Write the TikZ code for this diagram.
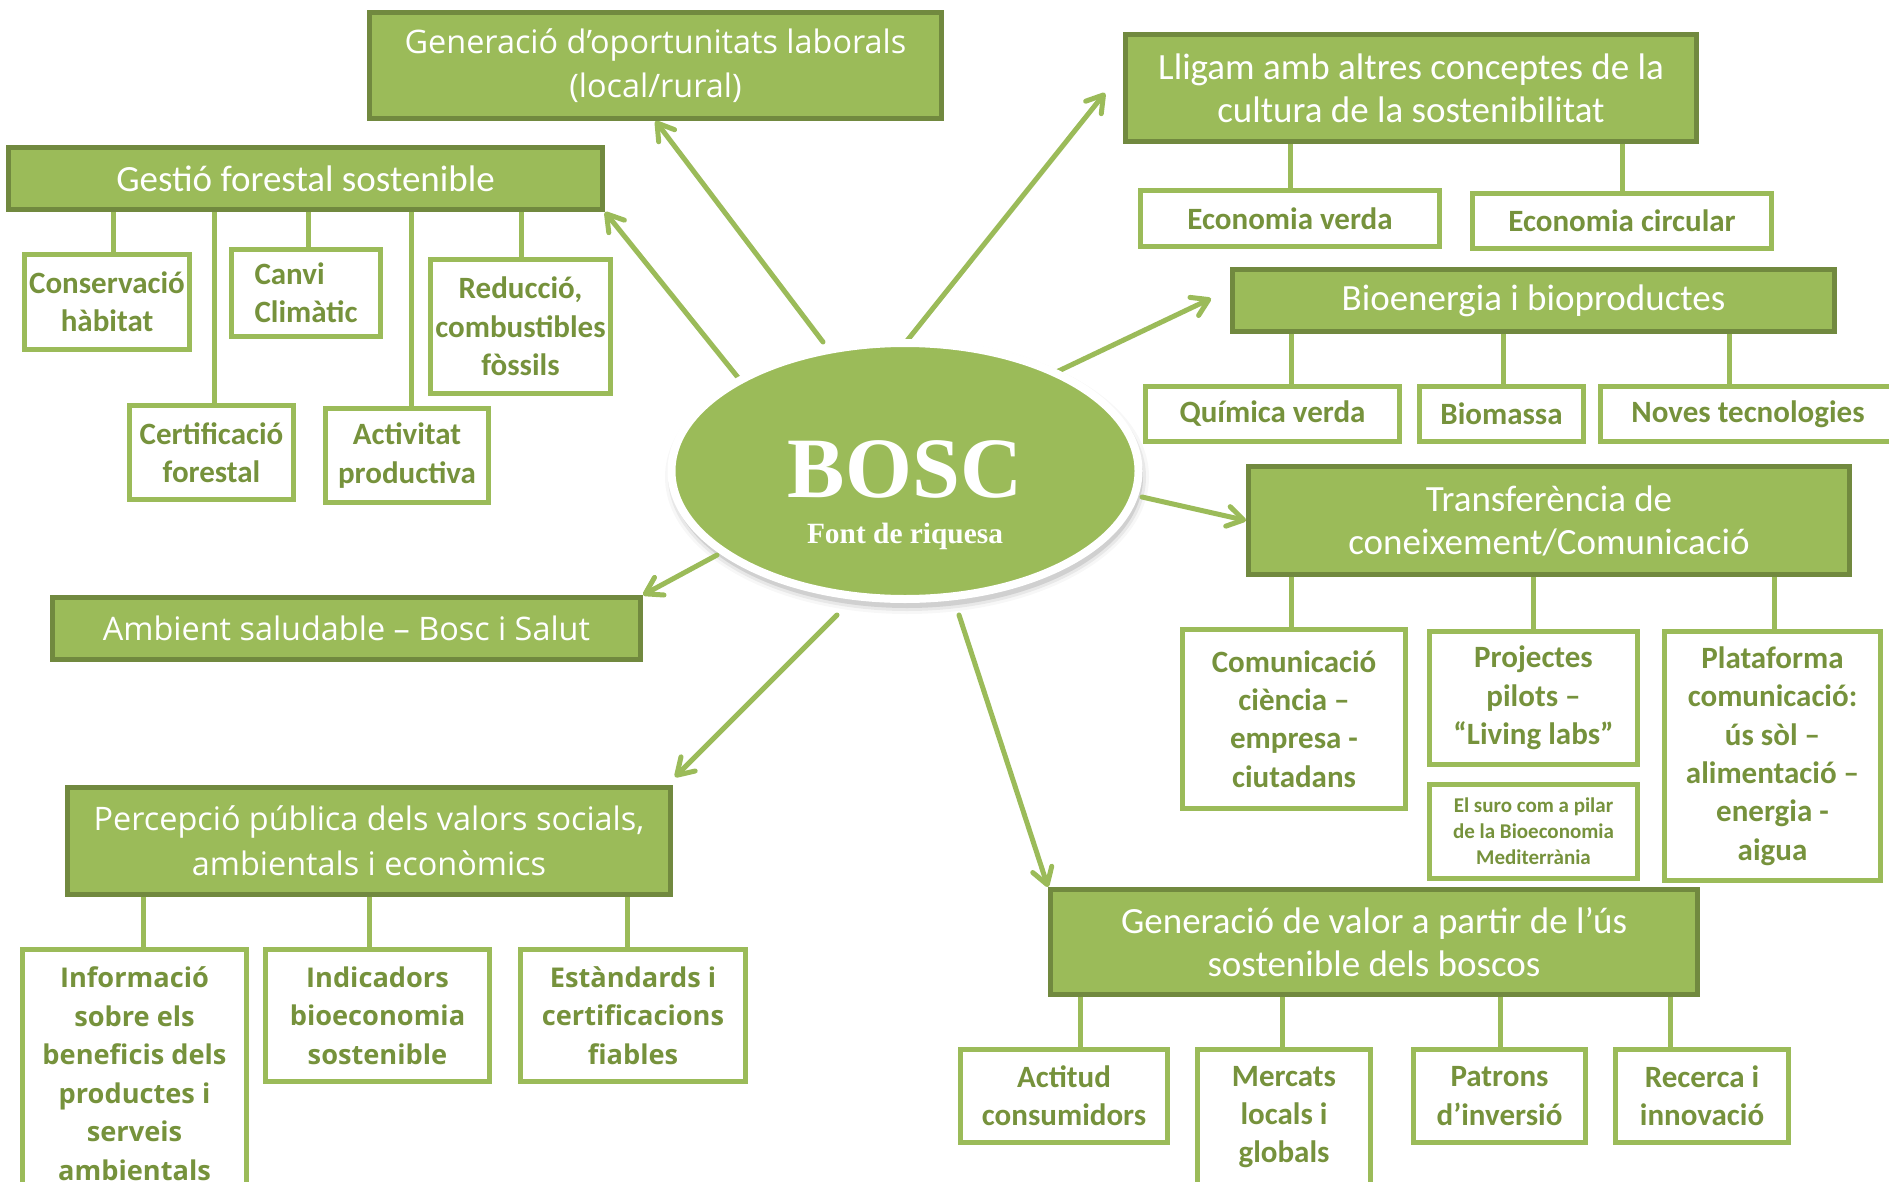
\documentclass[tikz,border=0pt]{standalone}
\usepackage{fontspec}
\setmainfont{Carlito}
\newfontfamily\osans{Open Sans}
\newfontfamily\tms{Liberation Serif}
\usetikzlibrary{shapes.geometric,arrows.meta,calc,backgrounds}
\definecolor{olv}{HTML}{9BBB59}
\definecolor{olvd}{HTML}{71893F}
\definecolor{olvt}{HTML}{76923C}
\pgfdeclarelayer{bg}
\pgfsetlayers{bg,background,main}
\newcommand\bx[7]{\node[#2, minimum width={0.5pt*(#5-#3-5)}, minimum height={0.5pt*(#6-#4-5)}] (#1) at ({(#3+#5)/2},{(#4+#6)/2}) {#7};}
\newcommand\cn[3]{\draw[conn] (#1.south -| #3,0) -- (#2.north -| #3,0);}
\tikzset{
  hdr/.style={draw=olvd, fill=olv, line width=2.5pt, inner sep=0pt, text=white, align=center, font=\fontsize{18.5}{21.5}\selectfont},
  hdro/.style={hdr, font=\osans\fontsize{16.2}{22.3}\selectfont},
  chd/.style={draw=olv, fill=white, line width=2.5pt, inner sep=0pt, text=olvt, align=center, font=\bfseries\fontsize{15.5}{19.2}\selectfont},
  chdo/.style={chd, font=\osans\bfseries\fontsize{13.6}{19.25}\selectfont},
  chds/.style={chd, font=\bfseries\fontsize{10.5}{13}\selectfont},
  conn/.style={draw=olv, line width=2.5pt},
  arr/.style={draw=olv, line width=2.5pt, line cap=round, -{Straight Barb[length=8pt,width=10pt,round]}},
}
\begin{document}
\begin{tikzpicture}[x=0.5pt,y=-0.5pt]
\path[use as bounding box] (0,0) rectangle (1889,1182);
\begin{pgfonlayer}{bg}\fill[white] (0,0) rectangle (1889,1182);\end{pgfonlayer}
\clip (0,0) rectangle (1889,1182);

% central ellipse
\node[ellipse, fill=olv, draw=white, line width=4pt, inner sep=0pt, minimum width=233.5pt, minimum height=128pt] (bosc) at (905,471) {};
\node[anchor=base, text=white, inner sep=0pt, font=\tms\bfseries\fontsize{43}{43}\selectfont] (bt) at (905,497) {BOSC};
\node[anchor=base, text=white, inner sep=0pt, font=\tms\bfseries\fontsize{14.7}{17}\selectfont] (ft) at (905,543) {Font de riquesa};

% headers
\bx{gen}{hdro}{367}{10}{944}{121}{Generació d’oportunitats laborals\\(local/rural)}
\bx{ges}{hdr}{6}{145}{605}{212}{Gestió forestal sostenible}
\bx{lli}{hdr}{1123}{32}{1699}{144}{Lligam amb altres conceptes de la\\cultura de la sostenibilitat}
\bx{bio}{hdr}{1230}{267}{1837}{334}{Bioenergia i bioproductes}
\bx{tra}{hdr}{1246}{464}{1852}{577}{Transferència de\\coneixement/Comunicació}
\bx{amb}{hdro}{50}{595}{643}{662}{Ambient saludable – Bosc i Salut}
\bx{per}{hdro}{65}{785}{673}{897}{Percepció pública dels valors socials,\\ambientals i econòmics}
\bx{val}{hdr}{1048}{887}{1700}{997}{Generació de valor a partir de l’ús\\sostenible dels boscos}

% Gestio children
\bx{con}{chd}{22}{252}{192}{352}{Conservació\\hàbitat}
\bx{cer}{chd}{127}{403}{296}{502}{Certificació\\forestal}
\bx{can}{chd,align=left}{229}{247}{383}{339}{Canvi\\Climàtic}
\bx{act}{chd}{323}{406}{491}{505}{Activitat\\productiva}
\bx{red}{chd}{428}{257}{613}{396}{Reducció,\\combustibles\\fòssils}
% Lligam children
\bx{ecv}{chd}{1138}{188}{1442}{249}{Economia verda}
\bx{ecc}{chd}{1470}{191}{1774}{251}{Economia circular}
% Bioenergia children
\bx{qui}{chd}{1143}{384}{1402}{444}{Química verda}
\bx{bms}{chd}{1417}{384}{1586}{444}{Biomassa}
\bx{nov}{chd}{1598}{384}{1898}{444}{Noves tecnologies}
% Transferencia children
\bx{com}{chd}{1180}{627}{1408}{811}{Comunicació\\ciència –\\empresa -\\ciutadans}
\bx{pro}{chd}{1427}{629}{1640}{767}{Projectes\\pilots –\\“Living labs”}
\bx{sur}{chds}{1427}{782}{1640}{881}{El suro com a pilar\\de la Bioeconomia\\Mediterrània}
\bx{pla}{chd}{1662}{629}{1883}{883}{Plataforma\\comunicació:\\ús sòl –\\alimentació –\\energia -\\aigua}
% Valor children
\bx{acc}{chd}{958}{1047}{1170}{1145}{Actitud\\consumidors}
\bx{mer}{chd}{1195}{1047}{1373}{1187}{Mercats\\locals i\\globals}
\bx{pat}{chd}{1411}{1047}{1588}{1145}{Patrons\\d’inversió}
\bx{rec}{chd}{1613}{1047}{1791}{1145}{Recerca i\\innovació}
% Percepcio children
\bx{inf}{chdo}{20}{947}{249}{1200}{Informació\\sobre els\\beneficis dels\\productes i\\serveis\\ambientals}
\bx{ind}{chdo}{263}{947}{492}{1084}{Indicadors\\bioeconomia\\sostenible}
\bx{est}{chdo}{518}{947}{748}{1084}{Estàndards i\\certificacions\\fiables}

\coordinate (a1) at (823,342);
\coordinate (a2) at (740,380);
\coordinate (a3) at (906,342);
\coordinate (a4) at (1048,376);
\coordinate (a5) at (1142,497);
\coordinate (a6) at (717,555);
\coordinate (a7) at (837,615);
\coordinate (a8) at (959,615);

\begin{pgfonlayer}{background}
  \foreach \r/\o in {0/0.10,3/0.06,6/0.03}{
    \fill[black, opacity=\o] (907,477) ellipse [x radius={236+\r}, y radius={131+\r}];
  }
  % tree connectors
  \cn{ges}{con}{113} \cn{ges}{cer}{214} \cn{ges}{can}{308} \cn{ges}{act}{411} \cn{ges}{red}{521}
  \cn{lli}{ecv}{1290} \cn{lli}{ecc}{1622}
  \cn{bio}{qui}{1291} \cn{bio}{bms}{1503} \cn{bio}{nov}{1729}
  \cn{tra}{com}{1291} \cn{tra}{pro}{1533} \cn{tra}{pla}{1774}
  \cn{val}{acc}{1080} \cn{val}{mer}{1282} \cn{val}{pat}{1500} \cn{val}{rec}{1670}
  \cn{per}{inf}{143} \cn{per}{ind}{369} \cn{per}{est}{627}
  % arrows
  \draw[arr] (a1) -- (gen.south);
  \draw[arr] (a2) -- (ges.south east);
  \draw[arr] (a3) -- ($(lli.west)+(-18,5)$);
  \draw[arr] (a4) -- ($(bio.west)+(-19,-2)$);
  \draw[arr] (a5) -- (tra.west);
  \draw[arr] (a6) -- (amb.north east);
  \draw[arr] (a7) -- ($(per.north east)+(2,-8)$);
  \draw[arr] (a8) -- (val.north west);
\end{pgfonlayer}
\end{tikzpicture}
\end{document}
